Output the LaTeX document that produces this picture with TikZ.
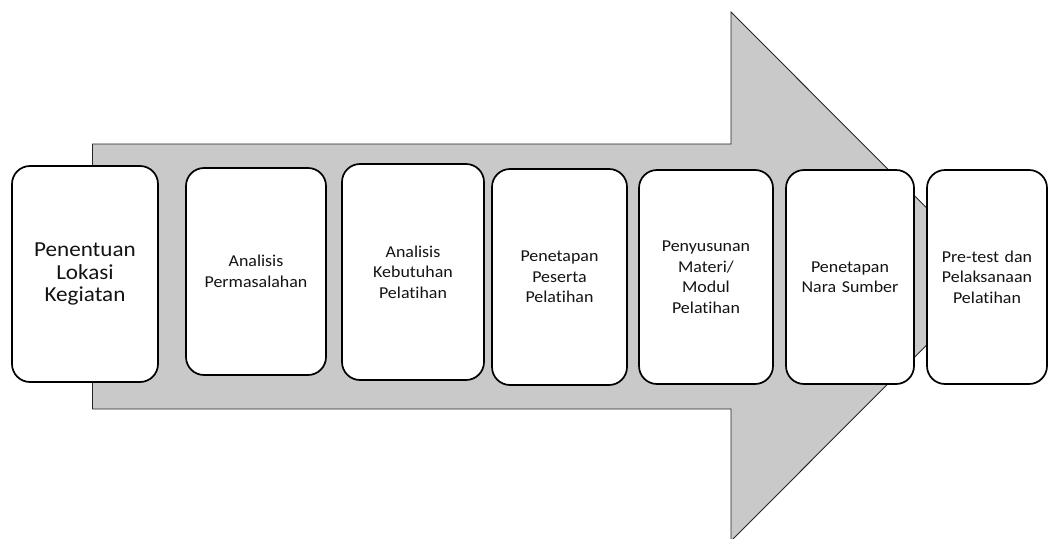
\documentclass[tikz,border=0pt]{standalone}
\usepackage{fontspec}
\setmainfont{Carlito}[FakeStretch=1.08, Ligatures={NoCommon}]
\definecolor{arrowfill}{RGB}{201,201,201}
\definecolor{txt}{RGB}{20,20,20}
\tikzset{
  stagebox/.style={draw=black, line width=1.7pt, fill=white, rounded corners=18pt,
    align=center, text=txt, inner sep=2pt},
  smalltext/.style={font=\fontsize{16.6}{20.5}\selectfont},
  bigtext/.style={font=\fontsize{21.4}{22.5}\selectfont},
}
\begin{document}
\begin{tikzpicture}[x=1pt,y=-1pt]
\useasboundingbox (0,0) rectangle (1049,538);
\clip (0,0) rectangle (1049,538);
% big arrow
\draw[fill=arrowfill, draw=black!85, line width=0.9pt]
  (92.5,144) -- (731,144) -- (731,12) -- (995,276.5) -- (731,541)
  -- (731,409) -- (92.5,409) -- cycle;
% stage boxes
\node[stagebox, bigtext, minimum width=146pt, minimum height=216pt, text width=140pt]
  (b1) at (85,274) {Penentuan\\Lokasi\\Kegiatan};
\node[stagebox, smalltext, minimum width=140pt, minimum height=207pt, text width=134pt]
  (b2) at (256,271.5) {Analisis\\Permasalahan};
\node[stagebox, smalltext, minimum width=142pt, minimum height=216pt, text width=136pt]
  (b3) at (413,272) {Analisis\\Kebutuhan\\Pelatihan};
\node[stagebox, smalltext, minimum width=135pt, minimum height=216pt, text width=129pt]
  (b4) at (559.5,277) {Penetapan\\Peserta\\Pelatihan};
\node[stagebox, smalltext, minimum width=134pt, minimum height=214pt, text width=128pt]
  (b5) at (706,277) {Penyusunan\\Materi/\\Modul\\Pelatihan};
\node[stagebox, smalltext, minimum width=128pt, minimum height=214pt, text width=122pt]
  (b6) at (850,277) {Penetapan\\Nara Sumber};
\node[stagebox, smalltext, minimum width=120pt, minimum height=214pt, text width=116pt]
  (b7) at (987,277) {Pre-test dan\\Pelaksanaan\\Pelatihan};
\end{tikzpicture}
\end{document}
